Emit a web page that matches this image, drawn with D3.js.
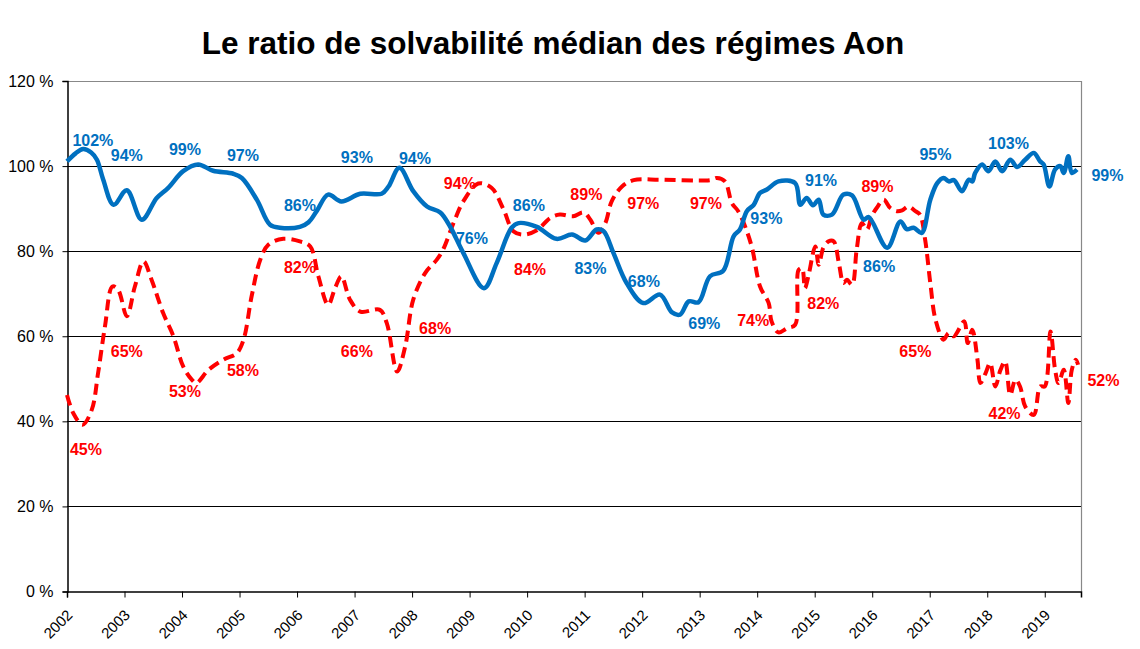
<!DOCTYPE html>
<html>
<head>
<meta charset="utf-8">
<script src="https://cdn.jsdelivr.net/npm/d3@7"></script>
<style>
  body { margin: 0; background: #fff; }
  text { font-family: "Liberation Sans", Arial, sans-serif; }
</style>
</head>
<body>
<svg width="1140" height="649"></svg>
<script>
// Data (decimal years, %)

var yearTicks = [2002, 2003, 2004, 2005, 2006, 2007, 2008, 2009, 2010, 2011,
    2012, 2013, 2014, 2015, 2016, 2017, 2018, 2019]
var pctTicks = [0, 20, 40, 60, 80, 100, 120]

var blueDates = [2002.00, 2002.15, 2002.28, 2002.42, 2002.52, 2002.63, 2002.81, 2003.04, 2003.30, 2003.56,
    2003.76, 2004.02, 2004.28, 2004.54, 2004.89, 2005.04, 2005.30, 2005.53, 2005.70, 2006.05,
    2006.20, 2006.34, 2006.54, 2006.77, 2007.10, 2007.47, 2007.59, 2007.78, 2008.02, 2008.26,
    2008.49, 2008.66, 2008.89, 2009.25, 2009.47, 2009.73, 2009.85, 2010.17, 2010.51, 2010.78,
    2011.01, 2011.21, 2011.33, 2011.50, 2011.73, 2012.02, 2012.31, 2012.52, 2012.66, 2012.81,
    2012.98, 2013.18, 2013.41, 2013.59, 2013.70, 2013.82, 2013.94, 2014.05, 2014.17, 2014.37,
    2014.66, 2014.75, 2014.86, 2014.97, 2015.07, 2015.15, 2015.30, 2015.50, 2015.65, 2015.85,
    2015.94, 2016.26, 2016.49, 2016.60, 2016.72, 2016.86, 2017.01, 2017.13, 2017.24, 2017.33,
    2017.42, 2017.56, 2017.68, 2017.74, 2017.79, 2017.91, 2018.02, 2018.14, 2018.26, 2018.40,
    2018.52, 2018.66, 2018.81, 2018.92, 2018.98, 2019.08, 2019.18, 2019.27, 2019.33, 2019.41,
    2019.47, 2019.56]
var blueValues = [101.1, 103.0, 104.0, 103.2, 101.5, 96.8, 90.9, 94.3, 87.4, 92.5,
    94.9, 98.8, 100.4, 98.9, 98.2, 97.2, 92.1, 86.2, 85.5, 85.7,
    86.8, 89.4, 93.3, 91.7, 93.5, 93.5, 95.2, 99.6, 94.1, 90.5,
    89.1, 85.8, 79.6, 71.3, 77.2, 85.5, 86.6, 85.7, 82.9, 83.9,
    82.5, 85.1, 84.7, 79.6, 72.5, 67.8, 69.8, 65.6, 65.1, 68.2,
    68.0, 74.1, 75.4, 83.5, 85.1, 89.4, 90.9, 93.7, 94.5, 96.4,
    96.0, 90.9, 92.5, 90.8, 92.1, 88.6, 88.6, 93.3, 93.1, 87.4,
    88.0, 80.8, 87.0, 85.2, 85.5, 84.3, 92.1, 96.0, 97.2, 96.4,
    96.7, 94.1, 96.8, 96.4, 98.4, 100.4, 98.8, 101.1, 98.8, 101.5,
    99.8, 101.5, 103.1, 101.1, 100.4, 95.2, 99.2, 100.0, 98.4, 102.3,
    98.4, 99.2]

var redDates = [2002.00, 2002.11, 2002.27, 2002.43, 2002.54, 2002.66, 2002.79, 2002.89, 2003.04, 2003.18,
    2003.33, 2003.47, 2003.67, 2003.85, 2004.02, 2004.17, 2004.25, 2004.46, 2004.72, 2004.95,
    2005.07, 2005.21, 2005.36, 2005.50, 2005.76, 2006.05, 2006.23, 2006.37, 2006.54, 2006.66,
    2006.77, 2006.92, 2007.10, 2007.44, 2007.56, 2007.74, 2007.88, 2008.02, 2008.23, 2008.43,
    2008.54, 2008.72, 2008.89, 2009.15, 2009.38, 2009.59, 2009.76, 2009.94, 2010.17, 2010.40,
    2010.57, 2010.80, 2010.98, 2011.10, 2011.24, 2011.36, 2011.47, 2011.65, 2011.85, 2012.31,
    2013.18, 2013.30, 2013.44, 2013.56, 2013.67, 2013.79, 2013.91, 2014.05, 2014.20, 2014.25,
    2014.37, 2014.52, 2014.66, 2014.72, 2014.78, 2014.83, 2014.89, 2015.01, 2015.07, 2015.15,
    2015.24, 2015.33, 2015.42, 2015.50, 2015.56, 2015.65, 2015.73, 2015.82, 2015.91, 2015.99,
    2016.08, 2016.20, 2016.31, 2016.43, 2016.52, 2016.63, 2016.75, 2016.83, 2016.92, 2017.01,
    2017.10, 2017.24, 2017.33, 2017.42, 2017.60, 2017.66, 2017.74, 2017.83, 2017.88, 2017.97,
    2018.05, 2018.14, 2018.23, 2018.31, 2018.40, 2018.49, 2018.57, 2018.66, 2018.81, 2018.92,
    2019.00, 2019.10, 2019.18, 2019.24, 2019.33, 2019.41, 2019.47, 2019.54, 2019.58]
var redValues = [46.2, 41.9, 39.2, 42.7, 51.3, 62.3, 71.7, 70.9, 64.7, 71.7,
    77.6, 73.3, 65.5, 60.0, 52.9, 49.8, 49.0, 52.1, 54.5, 56.0,
    59.2, 69.4, 78.0, 81.5, 82.9, 82.3, 81.1, 74.1, 67.4, 71.3,
    74.1, 68.6, 65.8, 66.2, 63.1, 51.7, 57.6, 68.6, 74.9, 78.0,
    80.4, 86.6, 91.7, 95.9, 94.9, 89.8, 84.7, 83.9, 84.9, 87.8,
    88.6, 88.2, 89.1, 87.4, 84.3, 86.6, 91.7, 95.2, 96.7, 96.8,
    96.7, 97.2, 96.4, 91.3, 89.4, 85.8, 80.8, 71.7, 67.8, 63.5,
    60.9, 61.9, 62.7, 75.6, 76.0, 71.3, 74.1, 81.1, 76.8, 80.8,
    82.3, 82.3, 77.2, 72.5, 73.3, 72.1, 80.4, 86.6, 85.1, 88.2,
    90.2, 92.1, 90.2, 89.4, 89.6, 90.5, 89.4, 88.6, 82.7, 72.5,
    63.9, 59.2, 60.8, 60.0, 63.5, 58.4, 61.5, 54.5, 49.0, 51.3,
    53.7, 48.2, 52.1, 54.1, 46.2, 49.8, 48.2, 43.5, 41.5, 48.2,
    48.2, 61.1, 52.1, 49.0, 52.1, 44.3, 52.1, 54.5, 53.3]

// data labels: text and where it sits (year, %)
var blueLabels = ['102%', '94%', '99%', '97%', '86%', '93%', '94%', '76%', '86%', '83%',
    '68%', '69%', '93%', '91%', '86%', '95%', '103%', '99%']
var blueLabelDates = [2002.45, 2003.04, 2004.05, 2005.06, 2006.05, 2007.04, 2008.05, 2009.04, 2010.03, 2011.10,
    2012.03, 2013.08, 2014.16, 2015.11, 2016.12, 2017.10, 2018.37, 2020.09]
var blueLabelValues = [104.8, 101.3, 102.5, 101.1, 89.5, 100.8, 100.6, 81.8, 89.5, 74.7,
    71.6, 61.8, 86.5, 95.4, 75.2, 101.5, 103.9, 96.4]

var redLabels = ['45%', '65%', '53%', '58%', '82%', '66%', '68%', '94%', '84%', '89%',
    '97%', '97%', '74%', '82%', '89%', '65%', '42%', '52%']
var redLabelDates = [2002.33, 2003.04, 2004.05, 2005.06, 2006.05, 2007.04, 2008.40, 2008.83, 2010.05, 2011.03,
    2012.02, 2013.11, 2013.93, 2015.15, 2016.09, 2016.75, 2018.30, 2020.02]
var redLabelValues = [32.1, 55.2, 45.8, 50.7, 74.9, 55.2, 60.6, 94.7, 74.5, 92.1,
    89.8, 89.8, 62.5, 66.5, 93.8, 55.2, 40.6, 48.4]

var blueColor = '#0070C0', redColor = '#FF0000'

var svg = d3.select('svg')

var x = d3.scaleLinear().domain([2002, 2019.63]).range([67, 1081])
var y = d3.scaleLinear().domain([0, 120]).range([591.5, 81])

// title
svg.append('text')
    .attr('x', 553)
    .attr('y', 54)
    .attr('text-anchor', 'middle')
    .attr('font-size', 31.5)
    .attr('font-weight', 'bold')
    .text('Le ratio de solvabilité médian des régimes Aon')

// gridlines (black), top one is the grey border
svg.selectAll('.grid')
    .data(pctTicks.filter(function(d) { return d > 0 && d < 120 }))
    .enter()
    .append('line')
    .attr('x1', x(2002))
    .attr('x2', x.range()[1])
    .attr('y1', function(d) { return Math.round(y(d)) + 0.5 })
    .attr('y2', function(d) { return Math.round(y(d)) + 0.5 })
    .attr('stroke', '#000')
    .attr('stroke-width', 1)

svg.append('path')
    .attr('d', 'M' + x(2002) + ',' + (Math.round(y(120)) + 0.5) + 'H' + (x.range()[1] + 0.5) + 'V' + y(0))
    .attr('fill', 'none')
    .attr('stroke', '#888')
    .attr('stroke-width', 1.2)

// y axis
var yAxis = d3.axisLeft(y)
    .tickValues(pctTicks)
    .tickSize(5)
    .tickPadding(9)
    .tickFormat(function(d) { return d + ' %' })

var gy = svg.append('g')
    .attr('transform', 'translate(' + (x(2002) + 0.5) + ',0)')
    .call(yAxis)
gy.select('.domain').attr('stroke', '#000').attr('stroke-width', 1.5)
gy.selectAll('text').attr('font-size', 16).attr('fill', '#000')
    .style('font-family', '"Liberation Sans", Arial, sans-serif')

// x axis, labels turned 45 degrees
var xAxis = d3.axisBottom(x)
    .tickValues(yearTicks)
    .tickSize(6)
    .tickFormat(d3.format('d'))

var gx = svg.append('g')
    .attr('transform', 'translate(0,' + y(0) + ')')
    .call(xAxis)
gx.select('.domain').attr('stroke', '#000').attr('stroke-width', 1.5)
gx.selectAll('text')
    .attr('font-size', 15)
    .attr('fill', '#000')
    .style('font-family', '"Liberation Sans", Arial, sans-serif')
    .attr('text-anchor', 'end')
    .attr('dy', 0)
    .attr('x', 0)
    .attr('y', 0)
    .attr('transform', 'translate(6,24.5) rotate(-45)')

// lines
var lineFn = d3.line()
    .x(function(d) { return x(d[0]) })
    .y(function(d) { return y(d[1]) })
    .curve(d3.curveCatmullRom.alpha(0.5))

var redPts = d3.zip(redDates, redValues)
var bluePts = d3.zip(blueDates, blueValues)

svg.append('path')
    .datum(redPts)
    .attr('d', lineFn)
    .attr('fill', 'none')
    .attr('stroke', redColor)
    .attr('stroke-width', 4)
    .attr('stroke-dasharray', '11,6')

svg.append('path')
    .datum(bluePts)
    .attr('d', lineFn)
    .attr('fill', 'none')
    .attr('stroke', blueColor)
    .attr('stroke-width', 4.5)
    .attr('stroke-linejoin', 'round')

// data labels
function addLabels(texts, dates, values, color) {
    svg.append('g')
        .selectAll('text')
        .data(texts)
        .enter()
        .append('text')
        .attr('x', function(d, i) { return x(dates[i]) })
        .attr('y', function(d, i) { return y(values[i]) })
        .attr('text-anchor', 'middle')
        .attr('font-size', 16)
        .attr('font-weight', 'bold')
        .attr('fill', color)
        .text(function(d) { return d })
}
addLabels(blueLabels, blueLabelDates, blueLabelValues, blueColor)
addLabels(redLabels, redLabelDates, redLabelValues, redColor)
</script>
</body>
</html>
